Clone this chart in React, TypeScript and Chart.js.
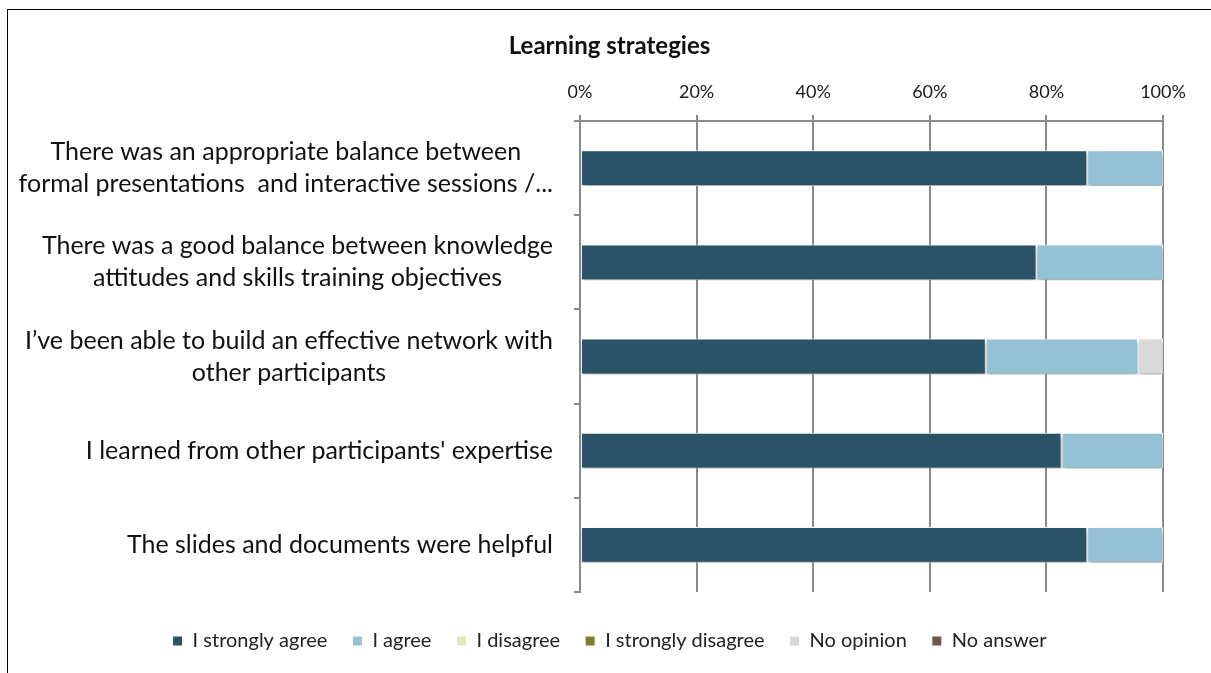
import React, { useEffect, useRef } from "react";
import { Chart, registerables } from "chart.js";

Chart.register(...registerables);

const chartTitle = "Learning strategies";

const categoryLines: string[][] = [
  ["There was an appropriate balance between", "formal presentations  and interactive sessions /..."],
  ["There was a good balance between knowledge", "attitudes and skills training objectives"],
  ["I\u2019ve been able to build an effective network with", "other participants"],
  ["I learned from other participants' expertise"],
  ["The slides and documents were helpful"],
];

const xTickValues = [0, 20, 40, 60, 80, 100];

const seriesNames = [
  "I strongly agree",
  "I agree",
  "I disagree",
  "I strongly disagree",
  "No opinion",
  "No answer",
];

const stronglyAgree = [87.0, 78.3, 69.6, 82.6, 87.0];
const agree = [13.0, 21.7, 26.1, 17.4, 13.0];
const disagree = [0, 0, 0, 0, 0];
const stronglyDisagree = [0, 0, 0, 0, 0];
const noOpinion = [0, 0, 4.3, 0, 0];
const noAnswer = [0, 0, 0, 0, 0];

const seriesColors = ["#2A5367", "#95C1D5", "#E4E5B9", "#7E7E30", "#D9D9D9", "#6E5547"];

const FONT = "Lato, 'Open Sans', sans-serif";

export default function App() {
  const canvasRef = useRef<HTMLCanvasElement | null>(null);

  useEffect(() => {
    const canvas = canvasRef.current;
    if (!canvas) return;

    const seriesData = [stronglyAgree, agree, disagree, stronglyDisagree, noOpinion, noAnswer];

    const shadowPlugin = {
      id: "barShadow",
      beforeDatasetsDraw(chart: any) {
        const ctx = chart.ctx;
        ctx.save();
        ctx.shadowColor = "rgba(0,0,0,0.35)";
        ctx.shadowBlur = 4;
        ctx.shadowOffsetX = 1;
        ctx.shadowOffsetY = 3;
      },
      afterDatasetsDraw(chart: any) {
        chart.ctx.restore();
      },
    };

    const yLabelPlugin = {
      id: "yLabels",
      afterDraw(chart: any) {
        const ctx = chart.ctx;
        const yScale = chart.scales.y;
        const lineH = 32;
        ctx.save();
        ctx.font = `25px ${FONT}`;
        ctx.fillStyle = "#111";
        ctx.textAlign = "center";
        ctx.textBaseline = "middle";
        const right = yScale.right - 27;
        categoryLines.forEach((lines, i) => {
          const yc = yScale.getPixelForTick(i);
          const maxW = Math.max(...lines.map((l) => ctx.measureText(l).width));
          const cx = right - maxW / 2;
          const y0 = yc - ((lines.length - 1) * lineH) / 2;
          lines.forEach((l, j) => {
            ctx.fillText(l, cx, y0 + j * lineH);
          });
        });
        ctx.restore();
      },
    };

    const chart = new Chart(canvas, {
      type: "bar",
      data: {
        labels: categoryLines.map((l) => l.join(" ")),
        datasets: seriesNames.map((name, i) => ({
          label: name,
          data: seriesData[i],
          backgroundColor: seriesColors[i],
          borderColor: "#ffffff",
          borderWidth: 1,
          borderSkipped: false,
          barPercentage: 0.38,
          categoryPercentage: 1,
        })),
      },
      plugins: [shadowPlugin, yLabelPlugin],
      options: {
        indexAxis: "y",
        responsive: false,
        animation: false,
        layout: { padding: { left: 0, right: 0, top: 0, bottom: 29 } },
        scales: {
          x: {
            position: "top",
            stacked: true,
            min: 0,
            max: 100,
            afterBuildTicks(scale: any) {
              scale.ticks = xTickValues.map((v) => ({ value: v }));
            },
            afterFit(scale: any) {
              scale.height = 60.6;
            },
            ticks: {
              callback: (v: any) => `${v}%`,
              font: { family: FONT, size: 18 },
              color: "#1a1a1a",
              padding: 12.2,
              maxRotation: 0,
            },
            grid: {
              color: "#8A8A8A",
              lineWidth: 2,
              tickLength: 6,
              drawTicks: true,
            },
            border: { display: true, color: "#8A8A8A", width: 2 },
          },
          y: {
            stacked: true,
            ticks: { display: false },
            afterFit(scale: any) {
              scale.width = 572;
            },
            grid: {
              offset: true,
              drawOnChartArea: false,
              drawTicks: true,
              tickLength: 6,
              color: "#8A8A8A",
              lineWidth: 2,
            },
            border: { display: true, color: "#8A8A8A", width: 2 },
          },
          spacer: {
            type: "linear",
            position: "right",
            display: true,
            ticks: { display: false },
            grid: { display: false, drawTicks: false },
            border: { display: false },
            afterFit(scale: any) {
              scale.width = 48;
            },
          },
        },
        plugins: {
          title: {
            display: true,
            text: chartTitle,
            font: { family: FONT, size: 24, weight: "bold" },
            color: "#111",
            padding: { top: 21.6, bottom: 0 },
          },
          legend: {
            position: "bottom",
            title: {
              display: true,
              text: "",
              font: { size: 5 },
              padding: { top: 8, bottom: 0 },
            },
            labels: {
              boxWidth: 10,
              boxHeight: 10,
              padding: 25,
              color: "#222",
              font: { family: FONT, size: 20 },
            },
          },
          tooltip: { enabled: false },
        },
      },
    } as any);

    return () => chart.destroy();
  }, []);

  return (
    <div
      style={{
        position: "absolute",
        left: 7,
        top: 9,
        width: 1210,
        height: 700,
        border: "1px solid #000",
        background: "#fff",
      }}
    >
      <canvas ref={canvasRef} width={1203} height={680} style={{ display: "block" }} />
    </div>
  );
}
